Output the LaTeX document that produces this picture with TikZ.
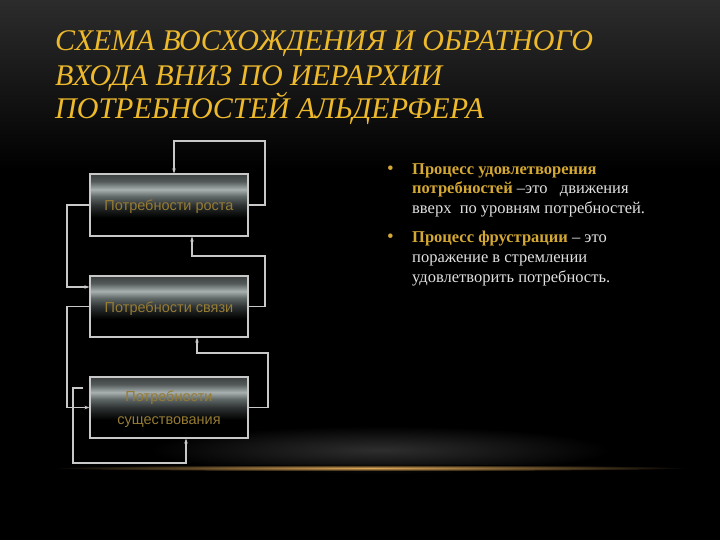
\documentclass[tikz,border=0pt]{standalone}
\usepackage{fontspec}
\setmainfont{Liberation Serif}
\newfontfamily\sansf{Liberation Sans}
\usetikzlibrary{arrows.meta,calc}
\definecolor{titlegold}{RGB}{238,186,44}
\definecolor{boldgold}{RGB}{212,168,52}
\definecolor{textwhite}{RGB}{225,225,225}
\definecolor{boxtext}{RGB}{150,124,52}
\definecolor{linegray}{RGB}{200,200,200}
\definecolor{bgtop}{RGB}{44,44,44}
\definecolor{glowgold}{RGB}{225,170,90}
\definecolor{glowgray}{RGB}{46,46,46}
\definecolor{sA}{RGB}{58,62,62}
\definecolor{sB}{RGB}{84,90,90}
\definecolor{sC}{RGB}{168,176,176}
\definecolor{sD}{RGB}{96,104,104}
\definecolor{sE}{RGB}{46,50,50}
\pgfdeclareverticalshading{boxshade}{100bp}{color(0bp)=(black); color(40bp)=(black); color(50bp)=(sE); color(57bp)=(sD); color(62.5bp)=(sC); color(69bp)=(sB); color(75bp)=(sA); color(100bp)=(sA)}
\tikzset{
  box/.style={draw=linegray, line width=1.1pt, shading=boxshade, minimum width=158pt, inner sep=0pt, font=\sansf\fontsize{14.5}{23}\selectfont, text=boxtext, align=center},
  boxlbl/.style={inner sep=0pt, font=\sansf\fontsize{14.5}{23}\selectfont, text=boxtext, align=center},
  conn/.style={draw=linegray, line width=1.1pt},
  arr/.style={conn, -{Stealth[length=5pt,width=3.5pt]}},
  bullet/.style={anchor=base west, inner sep=0pt, text=boldgold, font=\fontsize{19}{20}\selectfont},
  para/.style={anchor=base west, inner sep=0pt, text=textwhite, font=\fontsize{16.5}{20}\selectfont},
  ttl/.style={anchor=base west, inner sep=0pt, text=titlegold, font=\itshape\fontsize{30}{34}\selectfont}
}
\begin{document}
\begin{tikzpicture}[x=1pt,y=-1pt]
\useasboundingbox (0,0) rectangle (720,540);
\fill[black] (0,0) rectangle (720,540);
\shade[top color=bgtop, bottom color=black] (0,0) rectangle (720,170);
% bottom glow
\shade[inner color=glowgray, outer color=black] (380,450) ellipse [x radius=230, y radius=24];
\shade[inner color=glowgold, outer color=black] (370,468) ellipse [x radius=320, y radius=3.2];
% title
\node[ttl] (t1) at (55,51) {СХЕМА ВОСХОЖДЕНИЯ И ОБРАТНОГО};
\node[ttl] (t2) at (55,86) {ВХОДА ВНИЗ ПО ИЕРАРХИИ};
\node[ttl] (t3) at (55,119) {ПОТРЕБНОСТЕЙ АЛЬДЕРФЕРА};
% boxes
\node[box, minimum height=62pt] (b1) at (169,205) {};
\node[boxlbl] (b1t) at (169,207) {Потребности роста};
\node[box, minimum height=61pt] (b2) at (169,306.5) {};
\node[boxlbl] (b2t) at (169,308.5) {Потребности связи};
\node[box, minimum height=61pt] (b3) at (169,407.5) {};
\node[boxlbl] (b3t) at (169,409) {Потребности\\существования};
% connectors
\coordinate (a1) at (265,141);
\coordinate (a2) at (174,141);
\draw[arr] (b1.east) -| (a1) -- (a2) -- (a2 |- b1.north);
\coordinate (l1) at (67,205);
\coordinate (b2in) at ([yshift=19.5pt]b2.west);
\draw[arr] (b1.west) -- (l1) |- (b2in);
\coordinate (c1) at (265,256);
\coordinate (c2) at (192,256);
\draw[arr] (b2.east) -| (c1) -- (c2) -- (c2 |- b1.south);
\coordinate (d1) at (67,306.5);
\draw[arr] (b2.west) -- (d1) |- (b3.west);
\coordinate (e1) at (268,353);
\coordinate (e2) at (197,353);
\draw[arr] (b3.east) -| (e1) -- (e2) -- (e2 |- b2.south);
\coordinate (f0) at ([yshift=19.5pt,xshift=-6pt]b3.west);
\coordinate (f1) at (73,463);
\coordinate (f2) at (186,463);
\draw[arr] (f0) -| (f1) -- (f2) -- (f2 |- b3.south);
% bullets
\node[bullet] (u1) at (387,175) {•};
\node[para] (p1a) at (412,175) {\textcolor{boldgold}{\textbf{Процесс удовлетворения}}};
\node[para] (p1b) at (412,194) {\textcolor{boldgold}{\textbf{потребностей}} –это \ \ движения};
\node[para] (p1c) at (412,214) {вверх \ по уровням потребностей.};
\node[bullet] (u2) at (387,242) {•};
\node[para] (p2a) at (412,242) {\textcolor{boldgold}{\textbf{Процесс фрустрации}} – это};
\node[para] (p2b) at (412,262) {поражение в стремлении};
\node[para] (p2c) at (412,282) {удовлетворить потребность.};
\end{tikzpicture}
\end{document}
